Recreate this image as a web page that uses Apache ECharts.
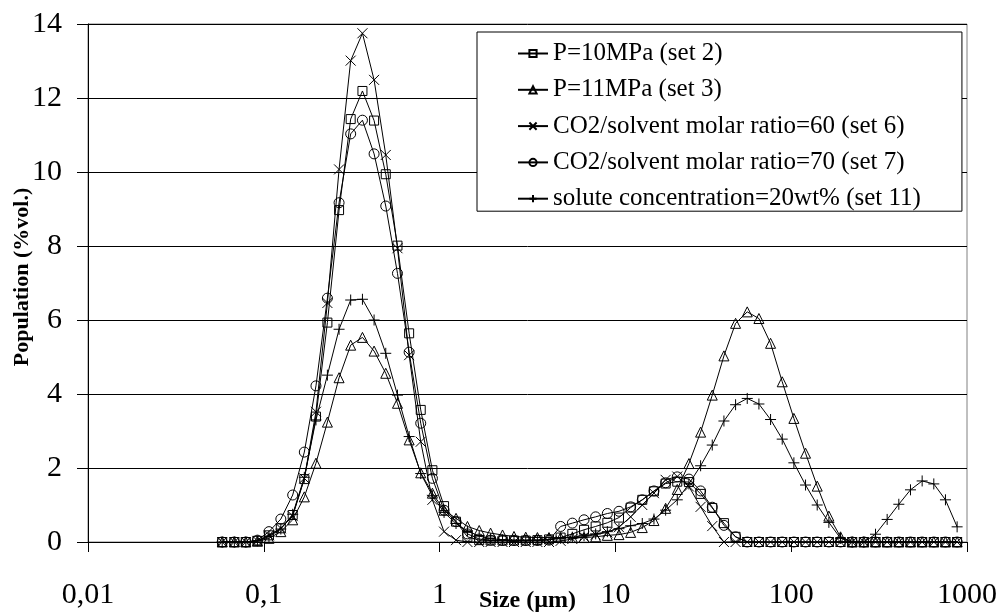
<!DOCTYPE html>
<html>
<head>
<meta charset="utf-8">
<script src="https://cdn.jsdelivr.net/npm/echarts@6/dist/echarts.min.js"></script>
<style>
html,body{margin:0;padding:0;background:#fff;}
#chart{width:1003px;height:613px;}
</style>
</head>
<body>
<div id="chart"></div>
<script>
// Particle size classes (µm) of the analyser
var sizes = [0.058,0.068,0.079,0.092,0.107,0.125,0.146,0.17,0.198,0.23,
  0.268,0.312,0.364,0.424,0.494,0.576,0.671,0.781,0.91,1.06,
  1.24,1.44,1.68,1.95,2.28,2.65,3.09,3.6,4.19,4.88,
  5.69,6.63,7.72,9.0,10.48,12.21,14.22,16.57,19.31,22.49,
  26.2,30.53,35.56,41.43,48.27,56.23,65.51,76.32,88.91,103.58,
  120.67,140.58,163.77,190.8,222.28,258.95,301.68,351.46,409.45,477.01,
  555.71,647.41,754.23,878.67];

var set2 = [0,0,0,0.03,0.18,0.37,0.73,1.7,3.39,5.93,
  8.97,11.43,12.19,11.39,9.94,8.01,5.64,3.57,1.94,0.97,
  0.55,0.14,0.05,0.04,0.04,0.04,0.04,0.05,0.07,0.12,
  0.22,0.33,0.42,0.52,0.66,0.93,1.14,1.37,1.58,1.63,
  1.62,1.3,0.92,0.51,0.14,0,0,0,0,0,
  0,0,0,0,0,0,0,0,0,0,
  0,0,0,0];

var set3 = [0,0,0,0.02,0.1,0.28,0.6,1.22,2.13,3.24,
  4.44,5.32,5.53,5.16,4.56,3.75,2.76,1.87,1.32,0.86,
  0.64,0.42,0.31,0.24,0.19,0.15,0.13,0.12,0.12,0.12,
  0.12,0.12,0.14,0.18,0.2,0.26,0.39,0.58,0.91,1.42,
  2.12,2.97,3.97,5.03,5.91,6.22,6.04,5.37,4.33,3.34,
  2.4,1.51,0.7,0.14,0,0,0,0,0,0,
  0,0,0,0];

var set6 = [0,0,0,0.03,0.18,0.37,0.7,1.72,3.52,6.46,
  10.07,13.01,13.75,12.49,10.46,7.94,5.05,2.71,1.14,0.28,
  0.05,0,0,0,0,0,0,0,0,0.03,
  0.08,0.14,0.2,0.26,0.4,0.68,1.0,1.32,1.68,1.77,
  1.5,0.95,0.43,0,0,0,0,0,0,0,
  0,0,0,0,0,0,0,0,0,0,
  0,0,0,0];

var set7 = [0,0,0,0.05,0.28,0.62,1.27,2.43,4.22,6.59,
  9.17,11.03,11.4,10.49,9.08,7.26,5.13,3.21,1.72,0.86,
  0.55,0.22,0.08,0.05,0.04,0.04,0.04,0.04,0.05,0.42,
  0.51,0.6,0.68,0.77,0.83,0.95,1.14,1.38,1.6,1.76,
  1.7,1.38,0.94,0.45,0.14,0,0,0,0,0,
  0,0,0,0,0,0,0,0,0,0,
  0,0,0,0];

var set11 = [0,0,0,0.03,0.15,0.35,0.75,1.75,3.3,4.51,
  5.75,6.54,6.56,6.0,5.1,3.97,2.85,1.85,1.25,0.8,
  0.5,0.3,0.16,0.09,0.06,0.05,0.05,0.05,0.07,0.1,
  0.13,0.17,0.22,0.28,0.36,0.44,0.5,0.62,0.86,1.14,
  1.57,2.06,2.62,3.27,3.71,3.88,3.73,3.31,2.78,2.14,
  1.54,1.0,0.53,0.1,0,0,0.21,0.61,1.02,1.41,
  1.65,1.57,1.14,0.41];

var seriesNames = [
  'P=10MPa (set 2)',
  'P=11MPa (set 3)',
  'CO2/solvent molar ratio=60 (set 6)',
  'CO2/solvent molar ratio=70 (set 7)',
  'solute concentration=20wt% (set 11)'
];
var xTickLabels = ['0,01','0,1','1','10','100','1000'];
var yTickLabels = ['0','2','4','6','8','10','12','14'];

var FONT = '"Liberation Serif", "Times New Roman", serif';

function pairs(vals){
  return sizes.map(function(s,i){ return [s, vals[i]]; });
}

var symbols = [
  {symbol:'rect', size:9},
  {symbol:'triangle', size:10},
  {symbol:'path://M0,0L10,10M10,0L0,10', size:10},
  {symbol:'circle', size:10},
  {symbol:'path://M5,0L5,10M0,5L10,5', size:11}
];
var allData = [set2, set3, set6, set7, set11];

var series = allData.map(function(d, k){
  return {
    name: seriesNames[k],
    type: 'line',
    data: pairs(d),
    symbol: symbols[k].symbol,
    symbolSize: symbols[k].size,
    showAllSymbol: true,
    lineStyle: {color:'#000', width:1},
    itemStyle: {color:'rgba(0,0,0,0)', borderColor:'#000', borderWidth:1},
    emphasis: {disabled:true},
    z: 2 + k
  };
});

var chart = echarts.init(document.getElementById('chart'), null, {renderer:'canvas'});
chart.setOption({
  animation: false,
  backgroundColor: '#fff',
  grid: {left:88, top:24, right:36, bottom:71, show:true, borderColor:'#808080', borderWidth:1,
    backgroundColor:'transparent', containLabel:false, outerBoundsMode:'none'},
  legend: {
    orient:'vertical', left:477, top:32,
    itemWidth:30, itemHeight:9, itemGap:11.3,
    padding:[9,41,0,40],
    borderColor:'#000', borderWidth:1, backgroundColor:'#fff',
    textStyle:{fontFamily:FONT, fontSize:25, color:'#000'},
    data: seriesNames
  },
  xAxis: {
    type:'log', logBase:10, min:0.01, max:1000,
    name:'Size (µm)', nameLocation:'middle', nameGap:47, nameMoveOverlap:false,
    nameTextStyle:{fontFamily:FONT, fontSize:24, fontWeight:'bold', color:'#000'},
    axisLine:{lineStyle:{color:'#000', width:1}},
    axisTick:{show:true, inside:false, length:10, lineStyle:{color:'#000'}},
    minorTick:{show:false},
    splitLine:{show:false},
    axisLabel:{fontFamily:FONT, fontSize:30, color:'#000', margin:38,
      formatter:function(v){ var e = Math.round(Math.log10(v)); return xTickLabels[e+2]; }}
  },
  yAxis: {
    type:'value', min:0, max:14, interval:2,
    name:'Population (%vol.)', nameLocation:'middle', nameGap:55, nameRotate:90, nameMoveOverlap:false,
    nameTextStyle:{fontFamily:FONT, fontSize:22, fontWeight:'bold', color:'#000', padding:[0,0,0,12]},
    axisLine:{show:true, lineStyle:{color:'#000', width:1}},
    axisTick:{show:true, inside:false, length:11, lineStyle:{color:'#000'}},
    splitLine:{show:true, lineStyle:{color:'#000', width:1}},
    axisLabel:{fontFamily:FONT, fontSize:30, color:'#000', margin:26,
      formatter:function(v){ return yTickLabels[Math.round(v/2)]; }}
  },
  series: series
});
</script>
</body>
</html>
